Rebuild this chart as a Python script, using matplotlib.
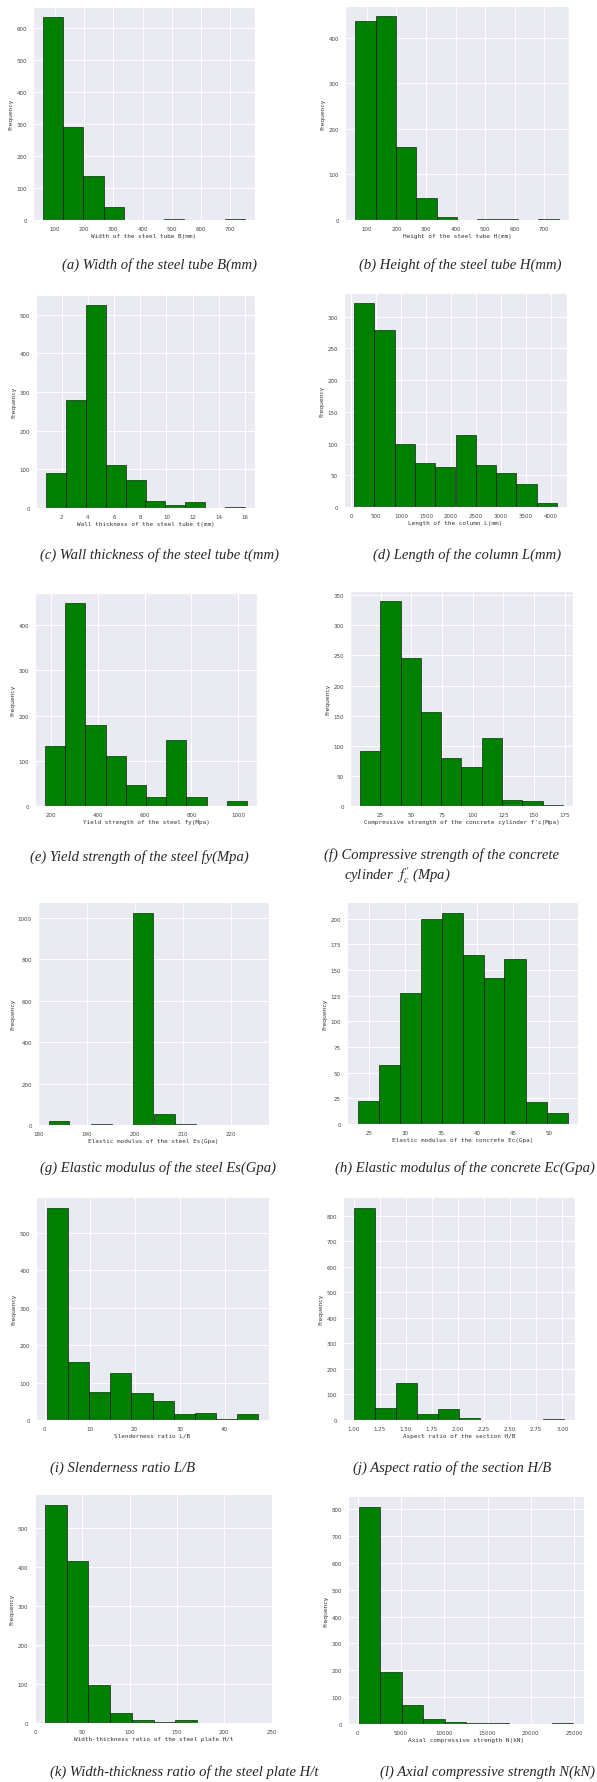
import matplotlib
matplotlib.use("Agg")
import matplotlib.pyplot as plt
import numpy as np
import seaborn as sns
from matplotlib.ticker import MultipleLocator

sns.set_style("darkgrid")
plt.rcParams['font.family'] = ['DejaVu Sans']
plt.rcParams['mathtext.fontset'] = 'stix'

W, H = 597, 1783

# histogram ranges (min, max of each variable) and counts for 10 equal bins
range_a = (60, 750)
counts_a = [635, 292, 137, 40, 0, 1, 3, 0, 0, 2]
range_b = (60, 750)
counts_b = [437, 447, 160, 48, 7, 1, 3, 3, 0, 2]
range_c = (0.8, 16.0)
counts_c = [90, 279, 525, 112, 72, 18, 8, 15, 0, 3]
range_d = (65, 4120)
counts_d = [321, 278, 100, 69, 63, 114, 66, 53, 37, 6]
range_e = (175, 1037)
counts_e = [133, 449, 179, 110, 46, 19, 146, 21, 0, 11]
range_f = (8.3, 173.5)
counts_f = [92, 340, 245, 156, 80, 64, 113, 10, 9, 2]
range_g = (182.1, 225.7)
counts_g = [19, 0, 3, 1, 1026, 55, 6, 2, 0, 2]
range_h = (23.4, 52.5)
counts_h = [22, 57, 128, 200, 206, 165, 142, 161, 21, 11]
range_i = (0.44, 47.5)
counts_i = [567, 156, 75, 125, 71, 52, 16, 19, 2, 15]
range_j = (1.0, 3.02)
counts_j = [832, 47, 145, 25, 44, 6, 0, 0, 0, 4]
range_k = (10.2, 240)
counts_k = [558, 414, 97, 25, 7, 3, 7, 0, 0, 1]
range_l = (114, 24900)
counts_l = [808, 193, 71, 20, 7, 5, 2, 1, 0, 2]

xlabels = ["Width of the steel tube B(mm)", "Height of the steel tube H(mm)",
           "Wall thickness of the steel tube t(mm)", "Length of the column L(mm)",
           "Yield strength of the steel fy(Mpa)",
           "Compressive strength of the concrete cylinder f'c(Mpa)",
           "Elastic modulus of the steel Es(Gpa)", "Elastic modulus of the concrete Ec(Gpa)",
           "Slenderness ratio L/B", "Aspect ratio of the section H/B",
           "Width-thickness ratio of the steel plate H/t", "Axial compressive strength N(kN)"]

# panel boxes in pixels: left, top, right, bottom
boxes = [(33, 8, 255, 221), (345, 7, 569, 221),
         (36, 296, 255, 509), (344, 294, 567, 508),
         (35, 594, 257, 807), (350, 592, 573, 807),
         (38, 903, 269, 1126), (347, 903, 578, 1125),
         (36, 1198, 269, 1421), (343, 1198, 575, 1421),
         (34, 1495, 273, 1724), (348, 1497, 584, 1725)]
xsteps = [100, 100, 2, 500, 200, 25, 10, 5, 10, 0.25, 50, 5000]
ysteps = [100, 100, 100, 50, 100, 50, 200, 25, 100, 100, 100, 100]

ranges = [range_a, range_b, range_c, range_d, range_e, range_f,
          range_g, range_h, range_i, range_j, range_k, range_l]
counts = [counts_a, counts_b, counts_c, counts_d, counts_e, counts_f,
          counts_g, counts_h, counts_i, counts_j, counts_k, counts_l]

fig = plt.figure(figsize=(W / 100, H / 100), dpi=100)

for n in range(12):
    l, t, r, b = boxes[n]
    ax = fig.add_axes([l / W, 1 - b / H, (r - l) / W, (b - t) / H])
    edges = np.linspace(ranges[n][0], ranges[n][1], 11)
    ax.hist(edges[:-1], bins=edges, weights=counts[n], color='green',
            edgecolor='black', linewidth=0.4)
    ax.xaxis.set_major_locator(MultipleLocator(xsteps[n]))
    ax.yaxis.set_major_locator(MultipleLocator(ysteps[n]))
    if n == 9:
        ax.xaxis.set_major_formatter(matplotlib.ticker.FormatStrFormatter('%.2f'))
    ax.tick_params(labelsize=4, pad=1, colors='#444444')
    ax.grid(color='white', linewidth=0.7)
    ax.set_xlabel(xlabels[n], fontsize=4.3, family='DejaVu Sans Mono', labelpad=1, color='#333333')
    ax.set_ylabel("Frequency", fontsize=4.3, labelpad=2, color='#333333')

# captions under each panel
cap = dict(fontsize=10.5, family='Liberation Serif', style='italic', va='center')
def put(x, y, s, ha='center'):
    fig.text(x / W, 1 - y / H, s, ha=ha, **cap)

put(159, 265, "(a) Width of the steel tube B(mm)")
put(460, 265, "(b) Height of the steel tube H(mm)")
put(159, 555, "(c) Wall thickness of the steel tube t(mm)")
put(467, 555, "(d) Length of the column L(mm)")
put(139, 857, "(e) Yield strength of the steel fy(Mpa)")
put(324, 855, "(f) Compressive strength of the concrete", ha='left')
put(344, 876, r"cylinder  $f_c^{\prime}$ (Mpa)", ha='left')
put(40, 1168, "(g) Elastic modulus of the steel Es(Gpa)", ha='left')
put(595, 1168, "(h) Elastic modulus of the concrete Ec(Gpa)", ha='right')
put(123, 1468, "(i) Slenderness ratio L/B")
put(452, 1468, "(j) Aspect ratio of the section H/B")
put(50, 1772, "(k) Width-thickness ratio of the steel plate H/t", ha='left')
put(380, 1772, "(l) Axial compressive strength N(kN)", ha='left')

fig.savefig("out.png", dpi=100, facecolor='white')
